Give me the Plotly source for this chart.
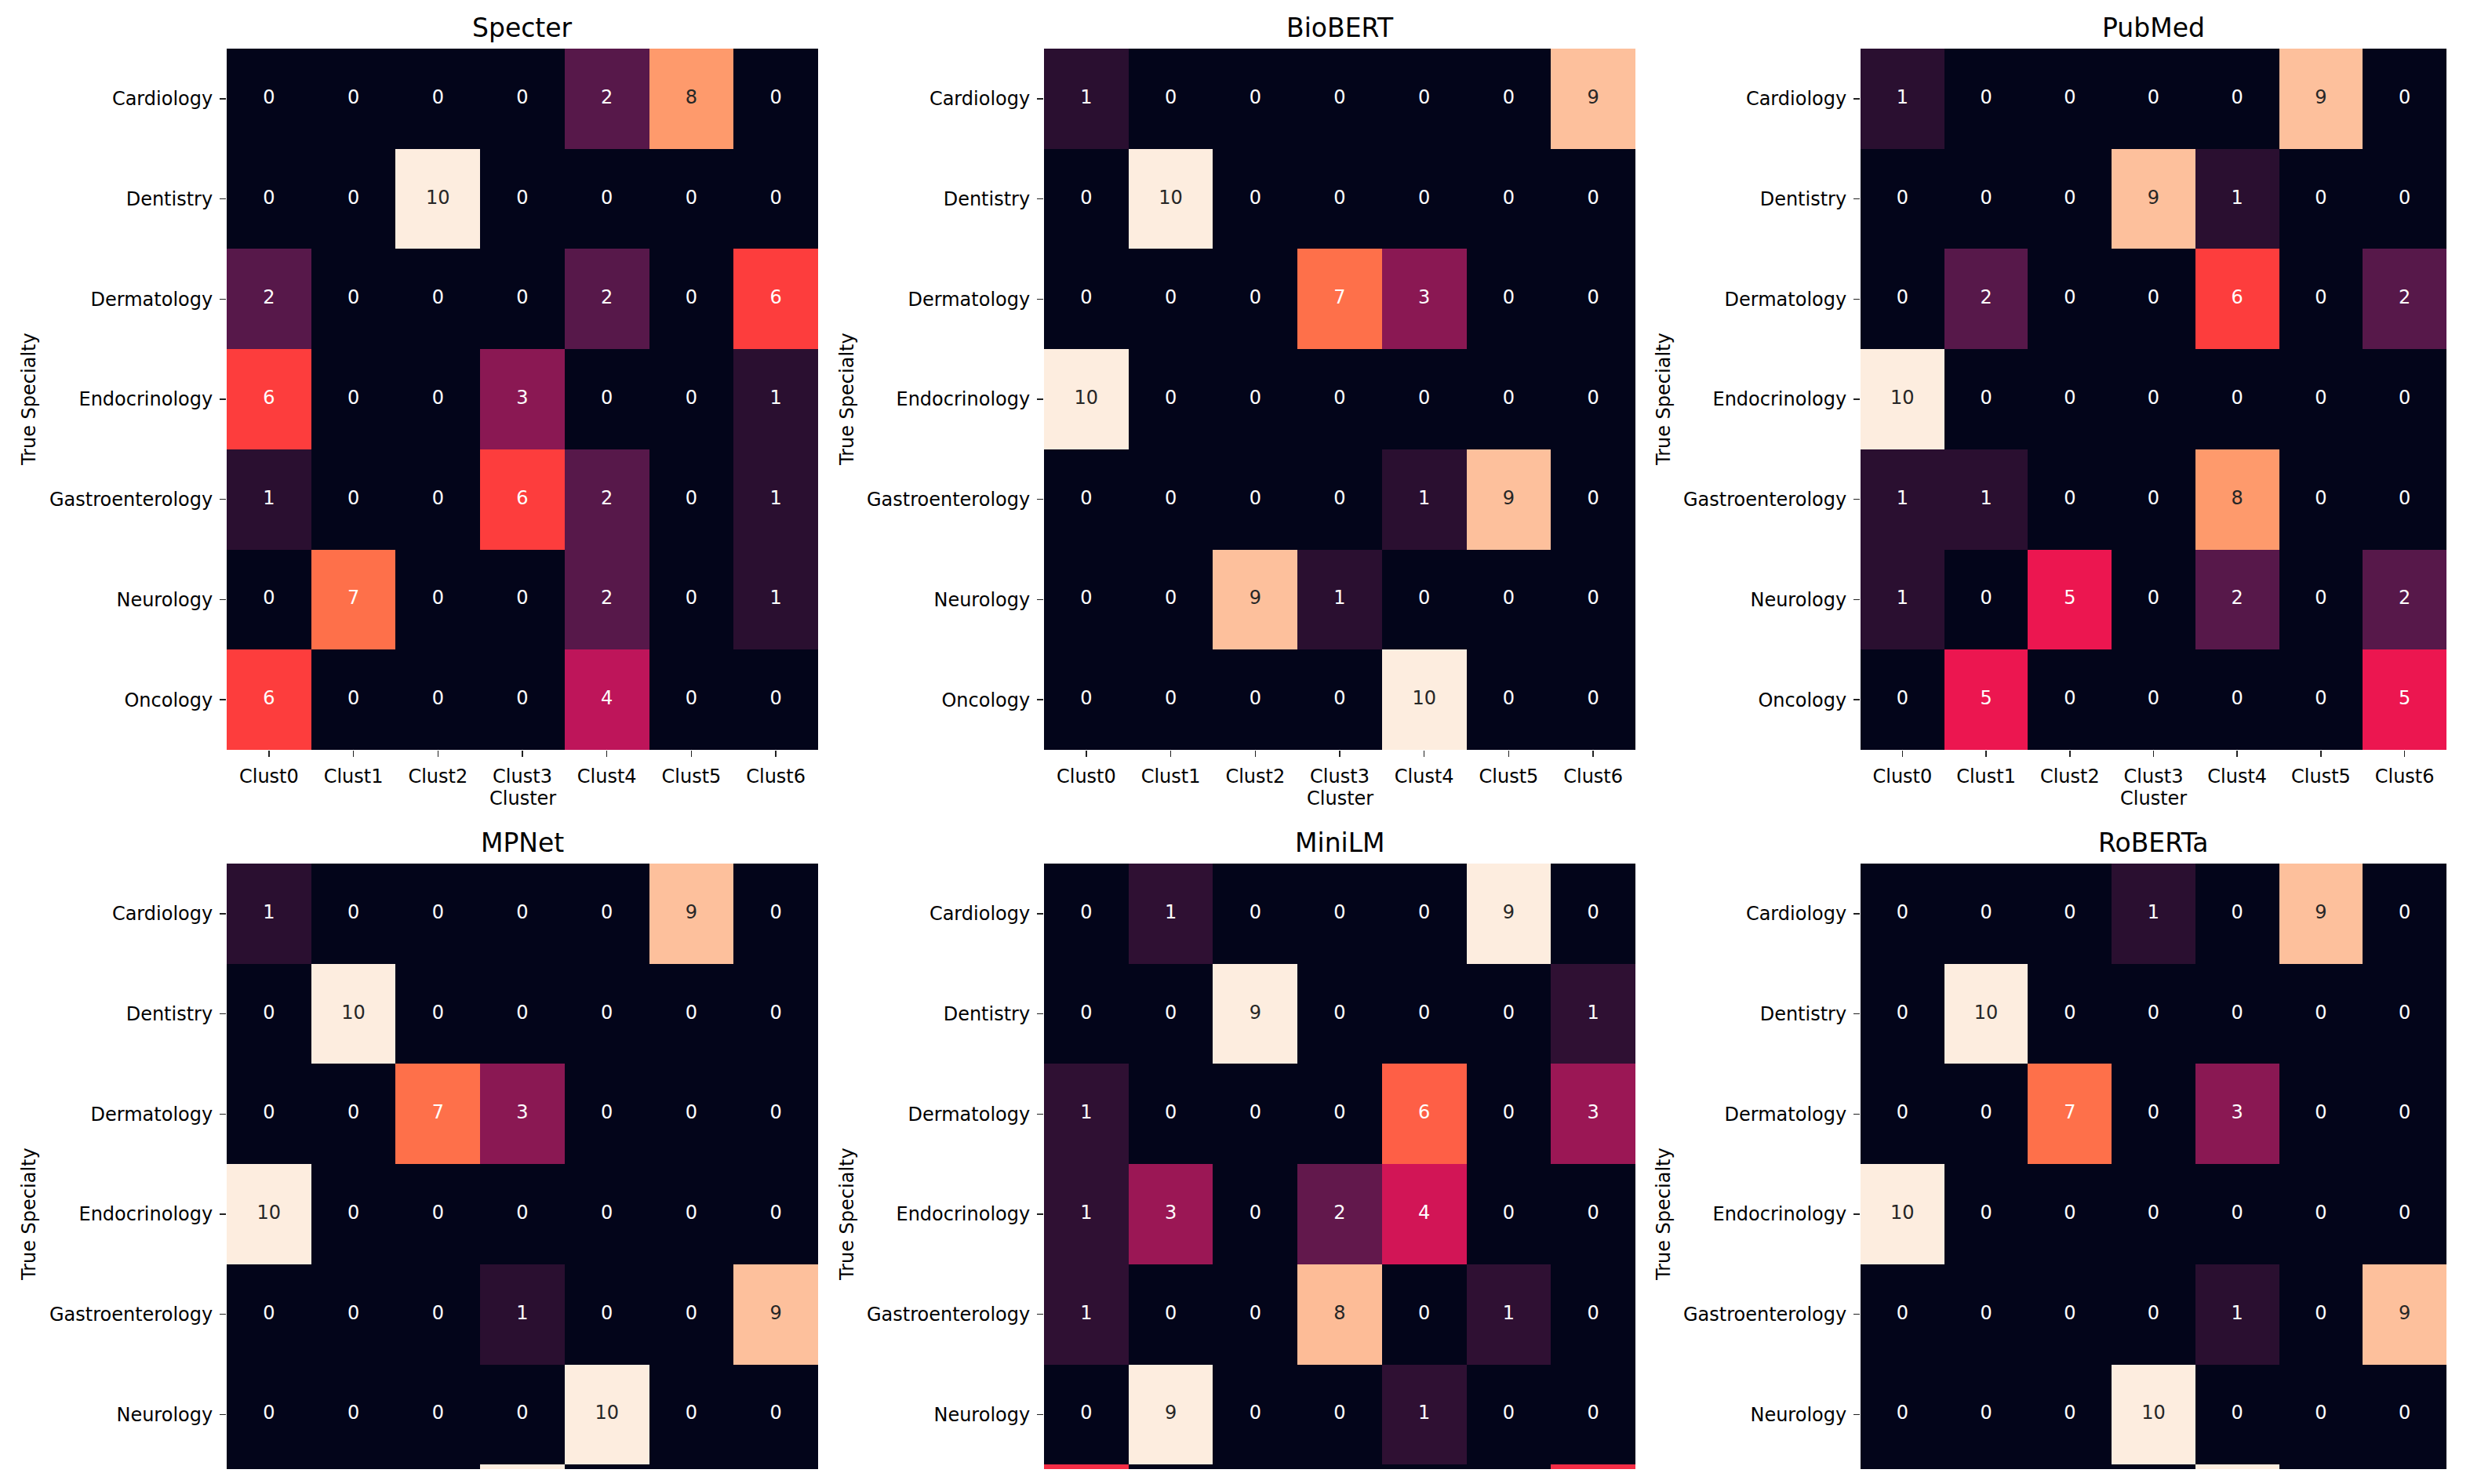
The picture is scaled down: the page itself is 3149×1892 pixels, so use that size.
import plotly.graph_objects as go

specialties = ["Cardiology", "Dentistry", "Dermatology", "Endocrinology",
               "Gastroenterology", "Neurology", "Oncology"]
clusters = ["Clust0", "Clust1", "Clust2", "Clust3", "Clust4", "Clust5", "Clust6"]
models = ["Specter", "BioBERT", "PubMed", "MPNet", "MiniLM", "RoBERTa"]

specter = [[0, 0, 0, 0, 2, 8, 0], [0, 0, 10, 0, 0, 0, 0], [2, 0, 0, 0, 2, 0, 6],
           [6, 0, 0, 3, 0, 0, 1], [1, 0, 0, 6, 2, 0, 1], [0, 7, 0, 0, 2, 0, 1],
           [6, 0, 0, 0, 4, 0, 0]]
biobert = [[1, 0, 0, 0, 0, 0, 9], [0, 10, 0, 0, 0, 0, 0], [0, 0, 0, 7, 3, 0, 0],
           [10, 0, 0, 0, 0, 0, 0], [0, 0, 0, 0, 1, 9, 0], [0, 0, 9, 1, 0, 0, 0],
           [0, 0, 0, 0, 10, 0, 0]]
pubmed = [[1, 0, 0, 0, 0, 9, 0], [0, 0, 0, 9, 1, 0, 0], [0, 2, 0, 0, 6, 0, 2],
          [10, 0, 0, 0, 0, 0, 0], [1, 1, 0, 0, 8, 0, 0], [1, 0, 5, 0, 2, 0, 2],
          [0, 5, 0, 0, 0, 0, 5]]
mpnet = [[1, 0, 0, 0, 0, 9, 0], [0, 10, 0, 0, 0, 0, 0], [0, 0, 7, 3, 0, 0, 0],
         [10, 0, 0, 0, 0, 0, 0], [0, 0, 0, 1, 0, 0, 9], [0, 0, 0, 0, 10, 0, 0],
         [0, 0, 0, 10, 0, 0, 0]]
minilm = [[0, 1, 0, 0, 0, 9, 0], [0, 0, 9, 0, 0, 0, 1], [1, 0, 0, 0, 6, 0, 3],
          [1, 3, 0, 2, 4, 0, 0], [1, 0, 0, 8, 0, 1, 0], [0, 9, 0, 0, 1, 0, 0],
          [5, 0, 0, 0, 0, 0, 5]]
roberta = [[0, 0, 0, 1, 0, 9, 0], [0, 10, 0, 0, 0, 0, 0], [0, 0, 7, 0, 3, 0, 0],
           [10, 0, 0, 0, 0, 0, 0], [0, 0, 0, 0, 1, 0, 9], [0, 0, 0, 10, 0, 0, 0],
           [0, 0, 0, 0, 10, 0, 0]]
matrices = [specter, biobert, pubmed, mpnet, minilm, roberta]

# "rocket"-like colormap as it appears in the reference
rocket = [(0.0, "#03051a"), (0.1, "#2a0f30"), (0.2, "#57184a"), (0.3, "#8a1853"),
          (0.4, "#be155a"), (0.5, "#ec1650"), (0.6, "#fd3d3d"), (0.7, "#fe704a"),
          (0.8, "#fe9a6c"), (0.9, "#fdc09c"), (1.0, "#fdeddf")]


def hex2rgb(h):
    h = h.lstrip("#")
    return [int(h[i:i + 2], 16) / 255 for i in (0, 2, 4)]


def interp(t):
    t = min(max(t, 0), 1)
    for (p0, c0), (p1, c1) in zip(rocket[:-1], rocket[1:]):
        if p0 <= t <= p1:
            f = (t - p0) / (p1 - p0)
            a, b = hex2rgb(c0), hex2rgb(c1)
            return [a[k] + f * (b[k] - a[k]) for k in range(3)]
    return hex2rgb(rocket[-1][1])


def lum(rgb):
    lin = [c / 12.92 if c <= 0.03928 else ((c + 0.055) / 1.055) ** 2.4 for c in rgb]
    return 0.2126 * lin[0] + 0.7152 * lin[1] + 0.0722 * lin[2]


W, H = 3149, 1892
col_px = [(289, 1043), (1331, 2085), (2372, 3119)]
row_px = [(62, 956), (1101, 1873)]
ylabel_x = [37, 1080, 2121]
font = "DejaVu Sans"

fig = go.Figure()
layout = dict(width=W, height=H, margin=dict(l=0, r=0, t=0, b=0),
              paper_bgcolor="white", plot_bgcolor="white", showlegend=False,
              font=dict(family=font, color="#000000", size=24))
annotations = []
cell = (row_px[0][1] - row_px[0][0]) / 7.0

for i, (name, mat) in enumerate(zip(models, matrices)):
    r, c = divmod(i, 3)
    ax = "" if i == 0 else str(i + 1)
    x0, x1 = col_px[c]
    y0, y1 = row_px[r]
    zmax = max(max(row) for row in mat)
    xs = list(range(len(clusters)))
    ys = list(range(len(specialties)))
    yrange_top = -0.5 + (y1 - y0) / cell
    fig.add_trace(go.Heatmap(z=mat, x=xs, y=ys, zmin=0, zmax=zmax,
                             colorscale=[[p, col] for p, col in rocket],
                             showscale=False, hoverinfo="skip",
                             xaxis="x" + ax, yaxis="y" + ax))
    tx, ty, tt, tc = [], [], [], []
    for ri, row in enumerate(mat):
        if ri > yrange_top:
            continue
        for ci, v in enumerate(row):
            tx.append(ci)
            ty.append(ri)
            tt.append(str(v))
            tc.append("#262626" if lum(interp(v / zmax)) > 0.408 else "#ffffff")
    fig.add_trace(go.Scatter(x=tx, y=ty, text=tt, mode="text",
                             textfont=dict(family=font, size=24, color=tc),
                             hoverinfo="skip", cliponaxis=True,
                             xaxis="x" + ax, yaxis="y" + ax))
    layout["xaxis" + ax] = dict(
        domain=[x0 / W, x1 / W], anchor="y" + ax, range=[-0.5, 6.5],
        tickvals=xs, ticktext=clusters, showgrid=False, zeroline=False,
        ticks="outside" if r == 0 else "", ticklen=8, tickwidth=1.5,
        tickcolor="#222222", showticklabels=(r == 0), ticklabelstandoff=4,
        tickfont=dict(size=24, family=font, color="#000000"), fixedrange=True)
    layout["yaxis" + ax] = dict(
        domain=[1 - y1 / H, 1 - y0 / H], anchor="x" + ax,
        range=[yrange_top, -0.5], tickvals=ys, ticktext=specialties,
        showgrid=False, zeroline=False, ticks="outside", ticklen=8,
        tickwidth=1.5, tickcolor="#222222", ticklabelstandoff=4,
        tickfont=dict(size=24, family=font, color="#000000"), fixedrange=True)
    annotations.append(dict(text=name, x=(x0 + x1) / 2 / W, y=1 - (y0 - 27) / H,
                            xref="paper", yref="paper", showarrow=False,
                            xanchor="center", yanchor="middle",
                            font=dict(size=33, family=font, color="#000000")))
    full_mid = y0 + 3.5 * cell
    annotations.append(dict(text="True Specialty", x=ylabel_x[c] / W,
                            y=1 - full_mid / H, xref="paper", yref="paper",
                            showarrow=False, textangle=-90, xanchor="center",
                            yanchor="middle",
                            font=dict(size=24, family=font, color="#000000")))
    if r == 0:
        annotations.append(dict(text="Cluster", x=(x0 + x1) / 2 / W,
                                y=1 - 1018 / H, xref="paper", yref="paper",
                                showarrow=False, xanchor="center",
                                yanchor="middle",
                                font=dict(size=24, family=font, color="#000000")))

layout["annotations"] = annotations
fig.update_layout(**layout)
fig.write_html("out.html",
               config={"displayModeBar": False, "staticPlot": True},
               post_script="document.body.style.margin='0';"
                           "document.body.style.overflow='hidden';")
